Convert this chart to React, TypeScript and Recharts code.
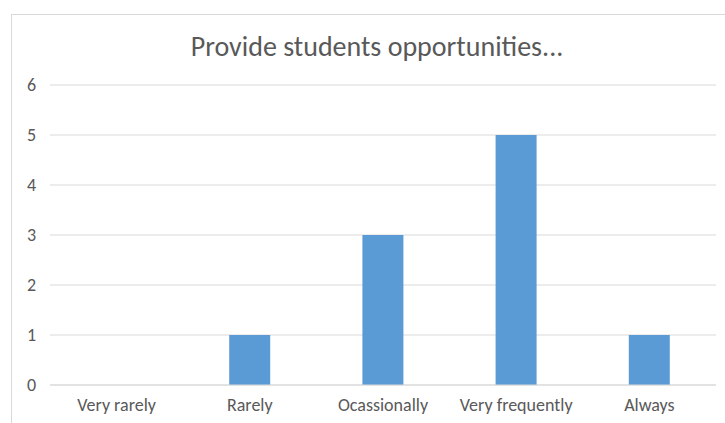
import { BarChart, Bar, XAxis, YAxis, CartesianGrid } from 'recharts';

const categories = ['Very rarely', 'Rarely', 'Ocassionally', 'Very frequently', 'Always'];
const counts = [0, 1, 3, 5, 1];
const yTicks = [0, 1, 2, 3, 4, 5, 6];

const data = categories.map((name, i) => ({ name, value: counts[i] }));

const font = "Carlito, Calibri, 'Open Sans', sans-serif";

export default function App() {
  return (
    <div style={{ position: 'absolute', left: 0, top: 0, width: 725, height: 423, background: '#fff', fontFamily: font }}>
      {/* chart frame: only top and left edges show in the picture */}
      <div
        style={{
          position: 'absolute',
          left: 11,
          top: 14,
          width: 714,
          height: 409,
          borderTop: '1px solid #d9d9d9',
          borderLeft: '1px solid #d9d9d9',
        }}
      />
      <div
        style={{
          position: 'absolute',
          left: 0,
          width: 754,
          top: 29,
          lineHeight: '36px',
          textAlign: 'center',
          fontSize: 28,
          color: '#595959',
        }}
      >
        Provide students opportunities...
      </div>
      <div style={{ position: 'absolute', left: 0, top: 0 }}>
        <BarChart width={725} height={423} data={data} margin={{ top: 85, right: 9, bottom: 0, left: 0 }}>
          <CartesianGrid vertical={false} stroke="#d9d9d9" />
          <XAxis
            dataKey="name"
            height={38}
            tickLine={false}
            axisLine={{ stroke: '#d9d9d9' }}
            tickMargin={7}
            tick={{ fill: '#595959', fontSize: 18, fontFamily: font }}
            interval={0}
          />
          <YAxis
            width={50}
            domain={[0, 6]}
            ticks={yTicks}
            tickLine={false}
            axisLine={false}
            tickMargin={8}
            tick={{ fill: '#595959', fontSize: 18, fontFamily: font }}
          />
          <Bar dataKey="value" fill="#5b9bd5" barSize={41} isAnimationActive={false} />
        </BarChart>
      </div>
    </div>
  );
}
